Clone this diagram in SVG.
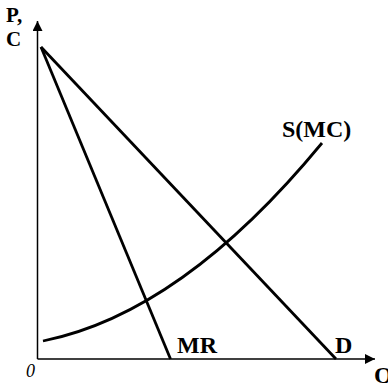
<svg xmlns="http://www.w3.org/2000/svg" width="388" height="383" viewBox="0 0 388 383">
<style>
.lbl{font-family:"Liberation Serif","Times New Roman",serif;font-weight:bold;font-size:24px;fill:#000}
.pc{font-size:21px}
.zero{font-family:"Liberation Serif","Times New Roman",serif;font-style:italic;font-size:18px;fill:#000}
.ax{stroke:#000;stroke-width:1.5;fill:none}
.ln{stroke:#000;stroke-width:2.8;fill:none}
</style>
<defs>
<marker id="arr" viewBox="0 0 10 10" refX="10" refY="5" markerWidth="10" markerHeight="10" markerUnits="userSpaceOnUse" orient="auto">
<path d="M0,0 L10,5 L0,10 Z" fill="#000"/>
</marker>
</defs>
<rect width="388" height="383" fill="#fff"/>
<g id="axes">
<line class="ax" x1="37.5" y1="359" x2="37.5" y2="21" marker-end="url(#arr)"/>
<line class="ax" x1="37.5" y1="359" x2="375" y2="359" marker-end="url(#arr)"/>
</g>
<g id="connectors">
<line id="MR-line" class="ln" x1="41" y1="47" x2="170.5" y2="359"/>
<line id="D-line" class="ln" x1="41" y1="47" x2="336" y2="359"/>
<path id="S-curve" class="ln" d="M43,341 Q182,313 322,143"/>
</g>
<g id="labels">
<text class="lbl pc" x="6" y="22">P,</text>
<text class="lbl pc" x="6" y="46">C</text>
<text class="zero" x="26" y="377">0</text>
<text class="lbl" x="282" y="137">S(MC)</text>
<text class="lbl" x="177" y="353">MR</text>
<text class="lbl" x="335" y="353">D</text>
<text class="lbl" x="374" y="383">Q</text>
</g>
</svg>
